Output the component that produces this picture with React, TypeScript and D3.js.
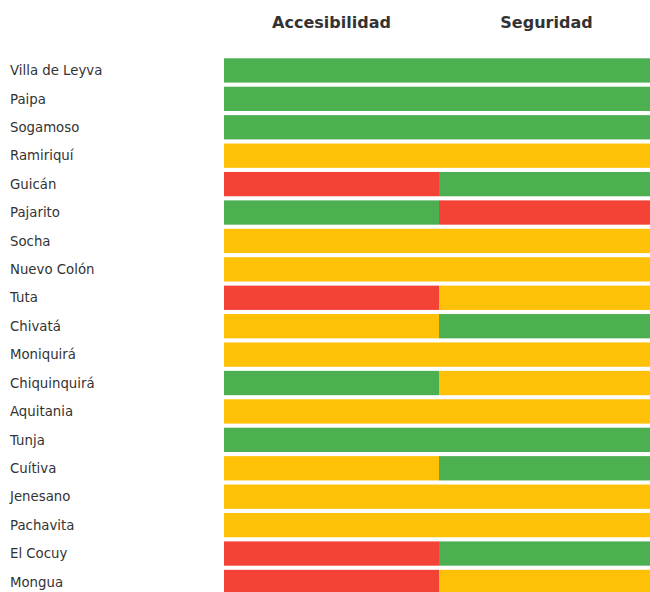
import React from "react";
import * as d3 from "d3";

const municipios = ["Villa de Leyva","Paipa","Sogamoso","Ramiriquí","Guicán","Pajarito","Socha","Nuevo Colón","Tuta","Chivatá","Moniquirá","Chiquinquirá","Aquitania","Tunja","Cuítiva","Jenesano","Pachavita","El Cocuy","Mongua"];
const dimensiones = ["Accesibilidad","Seguridad"];
const accesibilidad = ["alto","alto","alto","medio","bajo","alto","medio","medio","bajo","medio","medio","alto","medio","alto","medio","medio","medio","bajo","bajo"];
const seguridad = ["alto","alto","alto","medio","alto","bajo","medio","medio","medio","alto","medio","medio","medio","alto","alto","medio","medio","alto","medio"];
const niveles = ["alto","medio","bajo"];
const colores = ["#4CAF50","#FFC107","#F44336"];

export default function App() {
  const W = 650, H = 592;
  const x = d3.scaleBand<string>().domain(dimensiones).range([224, 654]).padding(0);
  const y = d3.scaleBand<string>().domain(municipios).range([56.3, 56.3 + 28.41 * municipios.length]).paddingInner(0.145).paddingOuter(0.07);
  const color = d3.scaleOrdinal<string, string>().domain(niveles).range(colores);
  const values = [accesibilidad, seguridad];
  const font = "'DejaVu Sans', sans-serif";
  return (
    <svg width={W} height={H} style={{ position: "fixed", left: 0, top: 0, background: "#fff" }} fontFamily={font}>
      {dimensiones.map((d) => (
        <text key={d} x={x(d)! + x.bandwidth() / 2} y={28} textAnchor="middle" fontSize={16} fontWeight="bold" fill="#333">{d}</text>
      ))}
      {municipios.map((m, i) => (
        <g key={m}>
          <text x={10} y={y(m)! + y.bandwidth() / 2} dy="0.35em" fontSize={13.3} fill="#333">{m}</text>
          {dimensiones.map((d, j) => (
            <rect key={d} x={x(d)!} y={y(m)!} width={x.bandwidth()} height={y.bandwidth()} fill={color(values[j][i])} />
          ))}
        </g>
      ))}
    </svg>
  );
}
